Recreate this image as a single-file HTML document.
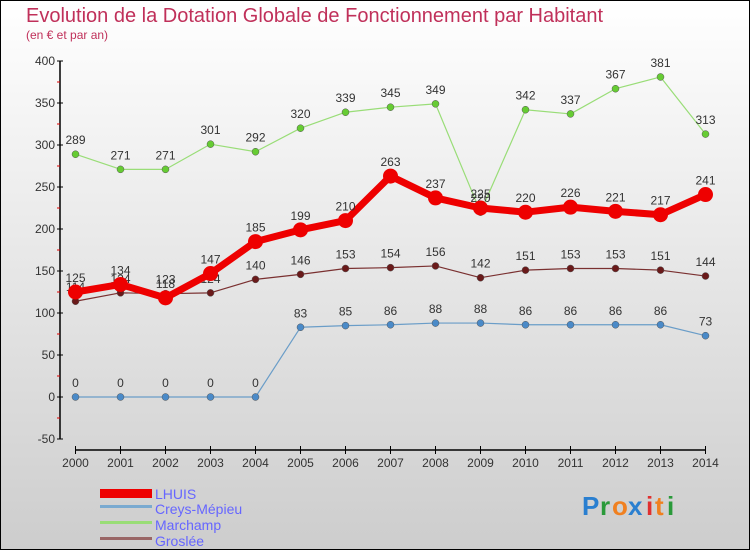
<!DOCTYPE html>
<html><head><meta charset="utf-8"><style>
body{margin:0}
#c{width:750px;height:550px;position:relative;overflow:hidden}
text{font-family:"Liberation Sans",sans-serif}
</style></head><body>
<div id="c">
<svg id="s" width="750" height="550" xmlns="http://www.w3.org/2000/svg">
<defs><linearGradient id="bg" x1="0" y1="0" x2="0" y2="1"><stop offset="0" stop-color="#ffffff"/><stop offset="1" stop-color="#cdcdcd"/></linearGradient></defs>
<rect x="0.5" y="0.5" width="749" height="549" fill="url(#bg)" stroke="#000"/>
<text x="26" y="22" font-size="20" fill="#c0305a">Evolution de la Dotation Globale de Fonctionnement par Habitant</text>
<text x="26" y="39" font-size="12" fill="#c0305a">(en € et par an)</text>
<g id="axes"></g><g id="series"></g>
<g>
<rect x="100" y="489" width="52" height="9" fill="#e00"/>
<text x="155" y="499" font-size="14" fill="#6666ff">LHUIS</text>
<rect x="100" y="505" width="52" height="3" fill="#7aaad0"/>
<text x="155" y="514" font-size="14" fill="#6666ff">Creys-Mépieu</text>
<rect x="100" y="521" width="52" height="3" fill="#99dd77"/>
<text x="155" y="530" font-size="14" fill="#6666ff">Marchamp</text>
<rect x="100" y="537" width="52" height="3" fill="#996666"/>
<text x="155" y="546" font-size="14" fill="#6666ff">Groslée</text>
</g>
<g font-size="26" font-weight="bold">
<text x="582" y="515" fill="#2a7fd0">P</text><text x="600" y="515" fill="#2a9a3a">r</text><text x="612" y="515" fill="#f08020">o</text><text x="628" y="515" fill="#2a7fd0">x</text><text x="646" y="515" fill="#e03030">i</text><text x="655" y="515" fill="#f08020">t</text><text x="667" y="515" fill="#2a9a3a">i</text>
</g>
</svg></div>
<script>
const years=[2000,2001,2002,2003,2004,2005,2006,2007,2008,2009,2010,2011,2012,2013,2014];
const lhuis=[125,134,118,147,185,199,210,263,237,225,220,226,221,217,241];
const creys=[0,0,0,0,0,83,85,86,88,88,86,86,86,86,73];
const marchamp=[289,271,271,301,292,320,339,345,349,220,342,337,367,381,313];
const groslee=[114,124,123,124,140,146,153,154,156,142,151,153,153,151,144];
const yTicks=[400,350,300,250,200,150,100,50,0,-50];
const NS="http://www.w3.org/2000/svg";
const xS=i=>75.5+i*(705.5-75.5)/(years.length-1);
const yS=v=>397-v*0.84;
function mk(tag,attrs,parent){const e=document.createElementNS(NS,tag);for(const k in attrs)e.setAttribute(k,attrs[k]);parent.appendChild(e);return e;}
const ax=document.getElementById('axes');
let yl=mk('line',{x1:60,y1:yS(400),x2:60,y2:yS(-50),stroke:'#000','stroke-width':1.5},ax);


yTicks.forEach(v=>{
 mk('line',{x1:57,y1:yS(v),x2:63,y2:yS(v),stroke:'#000'},ax);
 if(v>-50)mk('line',{x1:57,y1:yS(v-25),x2:60,y2:yS(v-25),stroke:'#d00'},ax);
 const t=mk('text',{x:55,y:yS(v)+4,'font-size':12,'text-anchor':'end',fill:'#333'},ax);t.textContent=v;
 
 
});
let xl=mk('line',{x1:75,y1:450,x2:706,y2:450,stroke:'#000','stroke-width':1.5},ax);


years.forEach((y,i)=>{
 mk('line',{x1:xS(i),y1:446,x2:xS(i),y2:454,stroke:'#000'},ax);
 const t=mk('text',{x:xS(i),y:467,'font-size':12,'text-anchor':'middle',fill:'#333'},ax);t.textContent=y;
 
 
});
const sg=document.getElementById('series');
function draw(data,name,color,dot,w,r){
 const g=mk('g',{},sg);
 
 
 mk('polyline',{points:data.map((v,i)=>xS(i)+','+yS(v)).join(' '),fill:'none',stroke:color,'stroke-width':w,'stroke-linejoin':'round'},g);
 data.forEach((v,i)=>{
  const c=mk('circle',{cx:xS(i),cy:yS(v),r:r,fill:dot,stroke:r>4?'none':'#555','stroke-width':0.5},g);
  
  
  const t=mk('text',{x:xS(i),y:yS(v)-10,'font-size':12,'text-anchor':'middle',fill:'#333'},g);t.textContent=v;
  
  
 });
}
draw(creys,'creys','#6a9dc8','#4a8ac8',1.2,3.5);
draw(marchamp,'marchamp','#99dd77','#66cc33',1.2,3.5);
draw(groslee,'groslee','#7a3030','#6a1a1a',1.2,3.5);
draw(lhuis,'lhuis','#ee0000','#ee0000',7,7.5);
</script>
</body></html>
